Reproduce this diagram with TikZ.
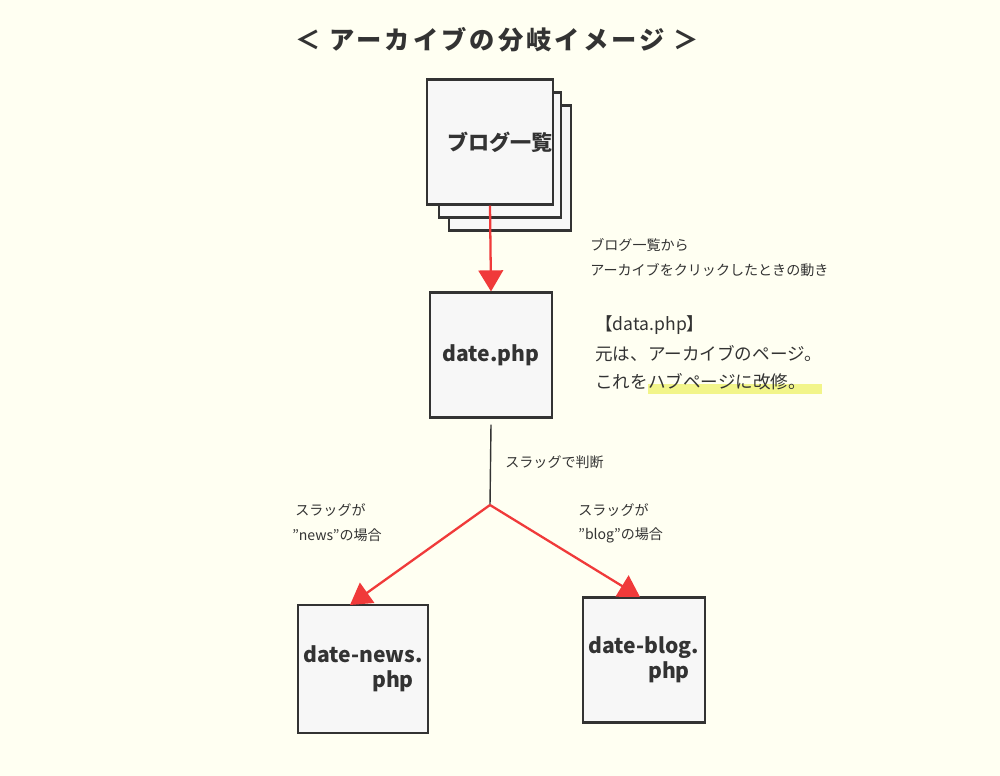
\documentclass[tikz,border=0pt]{standalone}
\usepackage{fontspec}
\setmainfont{Noto Sans CJK JP}
\usepackage{tikz}
\usetikzlibrary{arrows.meta, positioning}
\definecolor{paper}{HTML}{FFFFF2}
\definecolor{ink}{HTML}{333333}
\definecolor{redline}{HTML}{F03A3A}
\definecolor{marker}{HTML}{F2F58A}

\begin{document}
\begin{tikzpicture}[x=0.02cm, y=-0.02cm,
    page/.style={draw=ink, very thick, fill=gray!6, minimum width=2.45cm, minimum height=2.5cm, inner sep=0pt, font=\bfseries\large, text=ink, align=center},
    note/.style={font=\footnotesize, text=ink, anchor=west, inner sep=0pt},
    memo/.style={font=\normalsize, text=ink, anchor=west, inner sep=0pt},
    flow/.style={draw=redline, line width=1.3pt, -{Triangle[length=12pt, width=14pt]}}]
\fill[paper] (0,0) rectangle (1000,776);
\useasboundingbox (0,0) rectangle (1000,776);

\node[font=\Large\bfseries, text=ink] (title) at (497,40) {\addfontfeatures{LetterSpace=12}＜ アーカイブの分岐イメージ ＞};

\begin{scope}[every node/.style={page}]
  \node (list3) at (510,168) {};
  \node (list2) at (500,155) {};
  \node (list) at (490,142) {\hspace*{0.4cm}ブログ一覧};
  \node (date) at (491,355) {date.php};
  \node[minimum width=2.6cm, minimum height=2.56cm] (news) at (363,669) {date-news.\\\hspace*{1.2cm}php};
  \node (blog) at (644,660) {date-blog.\\\hspace*{1.0cm}php};
\end{scope}

\coordinate (fork) at (490,505);
\coordinate (newsin) at (350,605);
\coordinate (blogin) at (640,597);

\node[note] (from1) at (590,245) {ブログ一覧から};
\node[note] (from2) at (590,270) {アーカイブをクリックしたときの動き};
\fill[marker] (648,384) rectangle (822,394);
\node[memo] (memo1) at (595,325) {【data.php】};
\node[memo] (memo2) at (595,354) {元は、アーカイブのページ。};
\node[memo] (memo3) at (595,382) {これをハブページに改修。};
\node[note] (slug) at (505,462) {スラッグで判断};
\node[note] (news1) at (295,510) {スラッグが};
\node[note] (news2) at (292,535) {”news”の場合};
\node[note] (blog1) at (578,510) {スラッグが};
\node[note] (blog2) at (578,535) {”blog”の場合};

\draw[flow] (list.south) -- (date.north);
\draw[ink, thick] (date.south) ++(0,6) -- (fork);
\draw[flow] (fork) -- (newsin);
\draw[flow] (fork) -- (blogin);
\end{tikzpicture}
\end{document}
